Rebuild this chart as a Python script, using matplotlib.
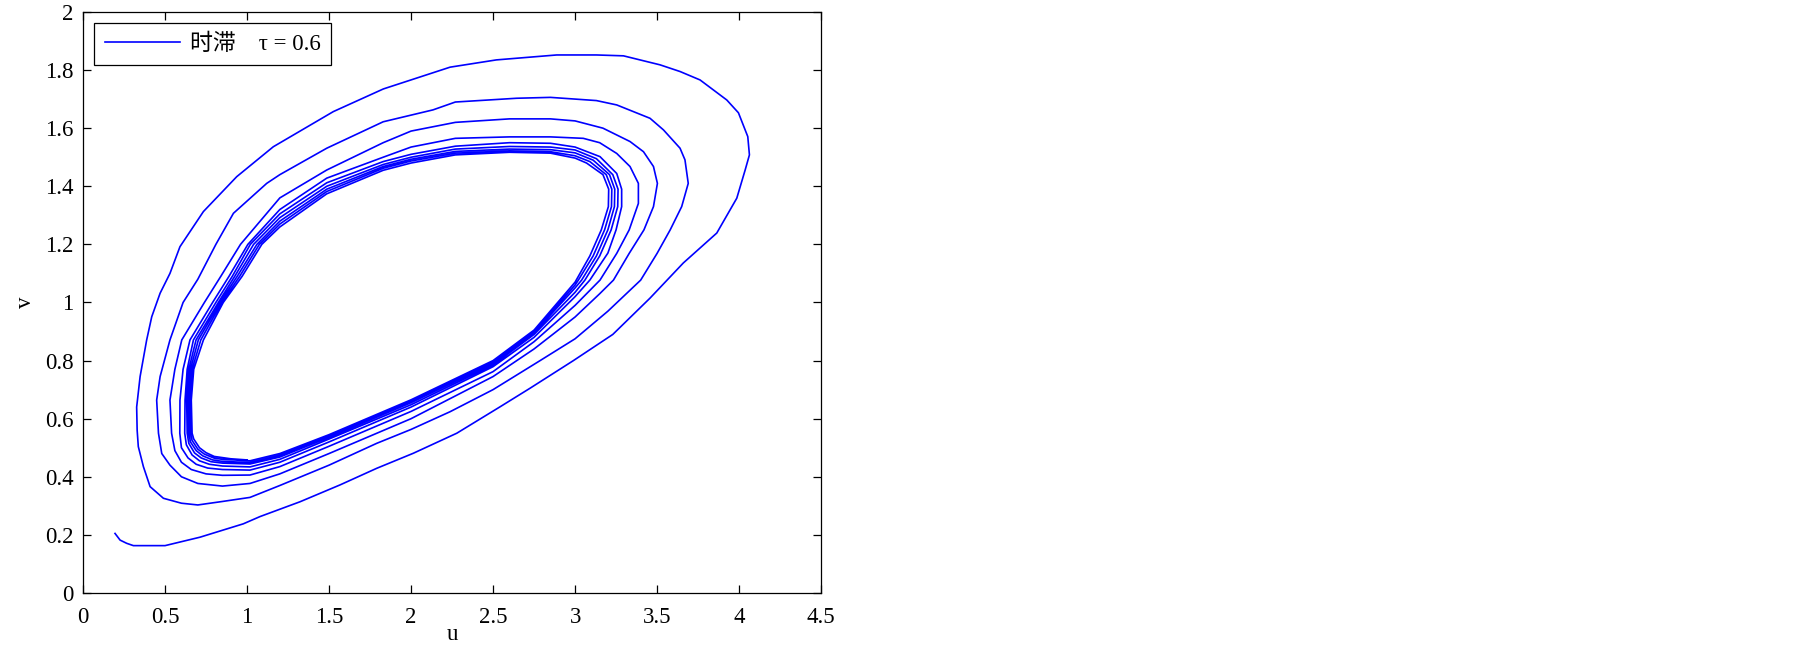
import numpy as np
import matplotlib.pyplot as plt

plt.rcParams['font.family'] = ['Liberation Serif', 'Noto Sans CJK SC']

# trajectory (u, v), one list per revolution
loop1 = [(0.195, 0.205), (0.226, 0.182), (0.266, 0.171), (0.307, 0.163), (0.5, 0.163),
         (0.713, 0.192), (0.977, 0.238), (1.079, 0.263), (1.323, 0.314), (1.567, 0.372),
         (1.79, 0.429), (2.014, 0.481), (2.279, 0.55), (2.543, 0.641), (2.726, 0.705),
         (2.99, 0.80), (3.23, 0.89), (3.457, 1.015), (3.66, 1.136), (3.864, 1.239),
         (3.986, 1.359), (4.037, 1.456), (4.063, 1.508), (4.053, 1.571), (3.996, 1.653),
         (3.925, 1.697), (3.762, 1.766), (3.64, 1.795), (3.518, 1.818), (3.295, 1.849),
         (3.13, 1.852), (2.888, 1.852), (2.52, 1.835), (2.238, 1.81), (1.831, 1.735),
         (1.526, 1.657), (1.16, 1.536), (0.937, 1.433), (0.734, 1.313), (0.591, 1.192),
         (0.53, 1.10), (0.47, 1.032), (0.419, 0.951), (0.388, 0.871), (0.348, 0.745),
         (0.327, 0.64), (0.33, 0.56), (0.337, 0.504), (0.368, 0.435), (0.409, 0.366),
         (0.49, 0.326), (0.6, 0.309), (0.7, 0.303)]
loop2 = [(0.85, 0.315), (1.018, 0.329), (1.2, 0.37), (1.5, 0.44), (1.79, 0.515),
         (2.0, 0.563), (2.238, 0.624), (2.5, 0.70), (2.787, 0.80), (3.0, 0.875),
         (3.2, 0.97), (3.4, 1.077), (3.5, 1.169), (3.58, 1.25), (3.65, 1.33),
         (3.69, 1.41), (3.67, 1.491), (3.64, 1.531), (3.539, 1.594), (3.457, 1.634),
         (3.254, 1.68), (3.13, 1.695), (2.85, 1.706), (2.644, 1.703), (2.27, 1.69),
         (2.134, 1.663), (1.83, 1.622), (1.486, 1.531), (1.2, 1.44), (1.12, 1.41),
         (0.917, 1.307), (0.81, 1.2), (0.70, 1.08), (0.61, 1.0), (0.53, 0.871),
         (0.47, 0.745), (0.449, 0.664), (0.46, 0.55), (0.48, 0.48), (0.53, 0.44),
         (0.6, 0.40), (0.7, 0.377)]
loop3 = [(0.85, 0.368), (1.018, 0.377), (1.2, 0.41), (1.5, 0.48), (2.0, 0.60),
         (2.5, 0.745), (2.75, 0.84), (3.0, 0.95), (3.15, 1.03), (3.234, 1.077),
         (3.33, 1.169), (3.42, 1.25), (3.478, 1.33), (3.502, 1.41), (3.478, 1.468),
         (3.417, 1.519), (3.335, 1.554), (3.17, 1.60), (3.0, 1.625), (2.85, 1.632),
         (2.6, 1.632), (2.27, 1.62), (2.0, 1.59), (1.83, 1.55), (1.486, 1.456),
         (1.2, 1.36), (0.96, 1.2), (0.84, 1.09), (0.74, 1.0), (0.602, 0.871),
         (0.56, 0.77), (0.53, 0.664), (0.54, 0.55), (0.56, 0.49), (0.60, 0.45),
         (0.66, 0.425), (0.75, 0.41)]
loop4 = [(0.85, 0.405), (1.018, 0.406), (1.2, 0.435), (1.5, 0.505), (2.0, 0.625),
         (2.5, 0.762), (2.75, 0.865), (3.0, 0.99), (3.152, 1.077), (3.254, 1.169),
         (3.33, 1.25), (3.386, 1.341), (3.386, 1.41), (3.335, 1.468), (3.254, 1.513),
         (3.15, 1.55), (3.05, 1.565), (2.85, 1.57), (2.6, 1.57), (2.27, 1.565),
         (2.0, 1.535), (1.83, 1.50), (1.486, 1.428), (1.2, 1.32), (1.005, 1.2),
         (0.89, 1.09), (0.79, 1.0), (0.652, 0.871), (0.61, 0.77), (0.591, 0.664),
         (0.59, 0.55), (0.60, 0.50), (0.64, 0.465), (0.69, 0.443), (0.76, 0.43)]
loop5 = [(0.85, 0.425), (1.018, 0.423), (1.2, 0.45), (1.5, 0.52), (2.0, 0.64),
         (2.5, 0.779), (2.75, 0.88), (3.0, 1.02), (3.09, 1.077), (3.2, 1.17),
         (3.25, 1.25), (3.284, 1.33), (3.284, 1.39), (3.254, 1.444), (3.152, 1.502),
         (3.0, 1.535), (2.85, 1.548), (2.6, 1.55), (2.27, 1.538), (2.0, 1.51),
         (1.83, 1.485), (1.486, 1.412), (1.2, 1.305), (1.02, 1.2), (0.91, 1.09),
         (0.81, 1.0), (0.673, 0.871), (0.635, 0.77), (0.622, 0.664), (0.62, 0.55),
         (0.63, 0.51), (0.665, 0.475), (0.71, 0.455), (0.77, 0.443)]
loop6 = [(0.85, 0.437), (1.018, 0.434), (1.2, 0.46), (1.5, 0.53), (2.0, 0.648),
         (2.5, 0.785), (2.75, 0.89), (3.0, 1.035), (3.06, 1.077), (3.15, 1.16),
         (3.22, 1.25), (3.26, 1.33), (3.262, 1.39), (3.23, 1.44), (3.13, 1.495),
         (3.0, 1.525), (2.85, 1.535), (2.6, 1.537), (2.27, 1.528), (2.0, 1.50),
         (1.83, 1.475), (1.486, 1.40), (1.2, 1.292), (1.04, 1.2), (0.925, 1.09),
         (0.825, 1.0), (0.689, 0.871), (0.645, 0.77), (0.632, 0.664), (0.635, 0.55),
         (0.645, 0.515), (0.68, 0.482), (0.72, 0.465), (0.78, 0.452)]
loop7 = [(0.85, 0.447), (1.018, 0.444), (1.2, 0.468), (1.5, 0.536), (2.0, 0.655),
         (2.5, 0.791), (2.75, 0.895), (3.0, 1.05), (3.04, 1.077), (3.13, 1.16),
         (3.2, 1.25), (3.24, 1.33), (3.242, 1.39), (3.21, 1.44), (3.11, 1.49),
         (3.0, 1.515), (2.85, 1.526), (2.6, 1.528), (2.27, 1.52), (2.0, 1.493),
         (1.83, 1.468), (1.486, 1.39), (1.2, 1.28), (1.06, 1.2), (0.94, 1.09),
         (0.835, 1.0), (0.703, 0.871), (0.655, 0.77), (0.642, 0.664), (0.645, 0.55),
         (0.655, 0.52), (0.69, 0.49), (0.73, 0.472), (0.79, 0.458)]
loop8 = [(0.85, 0.453), (1.018, 0.449), (1.2, 0.474), (1.5, 0.54), (2.0, 0.66),
         (2.5, 0.795), (2.75, 0.90), (3.0, 1.06), (3.02, 1.077), (3.11, 1.16),
         (3.18, 1.25), (3.222, 1.33), (3.224, 1.39), (3.19, 1.44), (3.09, 1.485),
         (3.0, 1.505), (2.85, 1.519), (2.6, 1.522), (2.27, 1.514), (2.0, 1.487),
         (1.83, 1.462), (1.486, 1.382), (1.2, 1.27), (1.075, 1.2), (0.955, 1.09),
         (0.845, 1.0), (0.718, 0.871), (0.665, 0.77), (0.652, 0.664), (0.655, 0.55),
         (0.665, 0.525), (0.70, 0.495), (0.74, 0.478), (0.80, 0.464)]
loop9 = [(0.85, 0.46), (1.018, 0.455), (1.2, 0.48), (1.5, 0.545), (2.0, 0.665),
         (2.5, 0.80), (2.75, 0.905), (3.0, 1.07), (3.09, 1.16), (3.16, 1.25),
         (3.203, 1.33), (3.205, 1.39), (3.17, 1.44), (3.07, 1.48), (3.0, 1.497),
         (2.85, 1.514), (2.6, 1.517), (2.27, 1.508), (2.0, 1.48), (1.83, 1.455),
         (1.486, 1.374), (1.2, 1.26), (1.09, 1.2), (0.97, 1.09), (0.855, 1.0),
         (0.734, 0.871), (0.675, 0.77), (0.66, 0.664), (0.665, 0.55), (0.675, 0.53),
         (0.71, 0.50), (0.75, 0.483), (0.80, 0.47), (0.9, 0.462), (1.0, 0.458)]

x_ticks = [0, 0.5, 1, 1.5, 2, 2.5, 3, 3.5, 4, 4.5]
x_labels = ['0', '0.5', '1', '1.5', '2', '2.5', '3', '3.5', '4', '4.5']
y_ticks = [0, 0.2, 0.4, 0.6, 0.8, 1, 1.2, 1.4, 1.6, 1.8, 2]
y_labels = ['0', '0.2', '0.4', '0.6', '0.8', '1', '1.2', '1.4', '1.6', '1.8', '2']
legend_label = '时滞    τ = 0.6'

path = np.array(loop1 + loop2 + loop3 + loop4 + loop5 + loop6 + loop7 + loop8 + loop9)

fig = plt.figure(figsize=(18.05, 6.54), dpi=100)
ax = fig.add_axes([0.046, 0.0933, 0.4089, 0.8884])

ax.plot(path[:, 0], path[:, 1], color='#0000ff', lw=1.2, label=legend_label)

ax.set_xlim(0, 4.5)
ax.set_ylim(0, 2)
ax.set_xticks(x_ticks)
ax.set_xticklabels(x_labels)
ax.set_yticks(y_ticks)
ax.set_yticklabels(y_labels)
ax.tick_params(direction='in', length=6, width=0.9, top=True, right=True,
               labelsize=16.5)
ax.tick_params(axis='x', pad=10)
ax.tick_params(axis='y', pad=7)
for s in ax.spines.values():
    s.set_linewidth(0.9)

ax.set_xlabel('u', fontsize=16.5, labelpad=-3)
ax.set_ylabel('v', fontsize=16.5, labelpad=6, rotation=90)

leg = ax.legend(loc='upper left', fontsize=16.5, handlelength=3.3, handletextpad=0.4,
                borderaxespad=0.5, fancybox=False, framealpha=1, borderpad=0.45)
leg.get_frame().set_edgecolor('black')
leg.get_frame().set_linewidth(0.9)

fig.savefig('out.png', dpi=100)
